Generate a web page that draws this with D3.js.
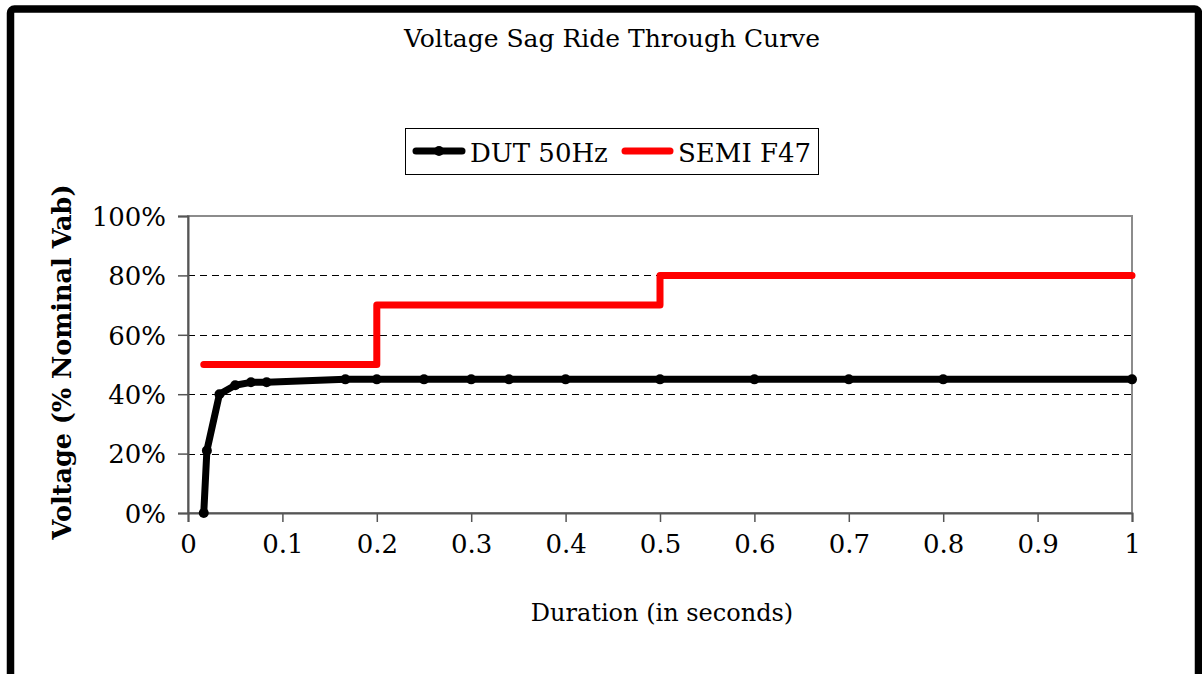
<!DOCTYPE html>
<html>
<head>
<meta charset="utf-8">
<script src="https://cdn.jsdelivr.net/npm/d3@7"></script>
<style>
  body { margin: 0; background: #fff; }
  svg { display: block; }
  svg text { font-family: "DejaVu Serif", "Liberation Serif", serif; }
</style>
</head>
<body>
<svg width="1202" height="674"></svg>
<script>
// duration in seconds, voltage in % of nominal
var dutTimes   = [0.0167, 0.02, 0.0333, 0.05, 0.0667, 0.0833, 0.1667, 0.2, 0.25, 0.3, 0.34, 0.4, 0.5, 0.6, 0.7, 0.8, 1.0];
var dutVolts   = [0, 21, 40, 43, 44, 44, 45, 45, 45, 45, 45, 45, 45, 45, 45, 45, 45];
var semiTimes  = [0.0167, 0.2, 0.2, 0.5, 0.5, 1.0];
var semiVolts  = [50, 50, 70, 70, 80, 80];
var xTicks = [0, 0.1, 0.2, 0.3, 0.4, 0.5, 0.6, 0.7, 0.8, 0.9, 1];
var yTicks = [0, 20, 40, 60, 80, 100];
var seriesNames = ["DUT 50Hz", "SEMI F47"];

var dut = dutTimes.map(function(t, i) { return {t: t, v: dutVolts[i]}; });
var semi = semiTimes.map(function(t, i) { return {t: t, v: semiVolts[i]}; });

var svg = d3.select("svg"),
    margin = {top: 216, right: 70, bottom: 161, left: 188},
    width = +svg.attr("width") - margin.left - margin.right,
    height = +svg.attr("height") - margin.top - margin.bottom;

// outer chart frame (bottom edge runs off the picture)
svg.append("rect")
    .attr("x", 10.5).attr("y", 9)
    .attr("width", 1188).attr("height", 720)
    .attr("rx", 4)
    .attr("fill", "#fff")
    .attr("stroke", "#000")
    .attr("stroke-width", 7.5);

svg.append("text")
    .attr("x", 612).attr("y", 47)
    .attr("text-anchor", "middle")
    .style("font-size", "25px")
    .text("Voltage Sag Ride Through Curve");

var g = svg.append("g").attr("transform", "translate(" + margin.left + "," + margin.top + ")");

var x = d3.scaleLinear().domain([0, 1]).range([0, width]);
var y = d3.scaleLinear().domain([0, 100]).range([height, 0]);

// dashed gridlines
g.selectAll(".grid")
    .data(yTicks.filter(function(d) { return d > 0 && d < 100; }))
  .enter().append("line")
    .attr("class", "grid")
    .attr("x1", 0).attr("x2", width)
    .attr("y1", function(d) { return Math.round(y(d)) + 0.5; })
    .attr("y2", function(d) { return Math.round(y(d)) + 0.5; })
    .attr("stroke", "#000")
    .attr("stroke-width", 1)
    .attr("stroke-dasharray", "7,5");

// plot border
g.append("rect")
    .attr("x", 0).attr("y", 0)
    .attr("width", width).attr("height", height)
    .attr("fill", "none")
    .attr("stroke", "#8c8c8c")
    .attr("stroke-width", 2);

var xAxis = g.append("g")
    .attr("transform", "translate(0," + height + ")")
    .call(d3.axisBottom(x).tickValues(xTicks).tickSize(9).tickPadding(13)
        .tickFormat(function(d) { return d === 0 || d === 1 ? d3.format("d")(d) : d3.format(".1f")(d); }));

var yAxis = g.append("g")
    .call(d3.axisLeft(y).tickValues(yTicks).tickSize(10).tickPadding(12)
        .tickFormat(function(d) { return d + "%"; }));

[xAxis, yAxis].forEach(function(ax) {
  ax.attr("font-family", null).attr("font-size", null);
  ax.select(".domain").attr("stroke", "#555").attr("stroke-width", 2);
  ax.selectAll(".tick line").attr("stroke", "#555").attr("stroke-width", 1.5);
  ax.selectAll(".tick text")
      .attr("fill", "#000")
      .style("font-size", "26px");
});
yAxis.selectAll(".tick text").attr("dy", "0.36em");
xAxis.selectAll(".tick text").attr("dy", "0.71em");

g.append("text")
    .attr("x", x(0.5) + 2).attr("y", 621 - margin.top)
    .attr("text-anchor", "middle")
    .style("font-size", "24px")
    .text("Duration (in seconds)");

g.append("text")
    .attr("transform", "translate(" + (71 - margin.left) + "," + (362 - margin.top) + ") rotate(-90)")
    .attr("text-anchor", "middle")
    .style("font-size", "25.5px")
    .style("font-weight", "bold")
    .text("Voltage (% Nominal Vab)");

var line = d3.line()
    .x(function(d) { return x(d.t); })
    .y(function(d) { return y(d.v); });

g.append("path")
    .datum(semi)
    .attr("d", line)
    .attr("fill", "none")
    .attr("stroke", "#ff0000")
    .attr("stroke-width", 7)
    .attr("stroke-linejoin", "round")
    .attr("stroke-linecap", "round");

g.append("path")
    .datum(dut)
    .attr("d", line)
    .attr("fill", "none")
    .attr("stroke", "#000")
    .attr("stroke-width", 7)
    .attr("stroke-linejoin", "round")
    .attr("stroke-linecap", "round");

g.selectAll(".dot")
    .data(dut)
  .enter().append("circle")
    .attr("class", "dot")
    .attr("cx", function(d) { return x(d.t); })
    .attr("cy", function(d) { return y(d.v); })
    .attr("r", 5)
    .attr("fill", "#000");

// legend
var legend = svg.append("g");
legend.append("rect")
    .attr("x", 405.5).attr("y", 128.5)
    .attr("width", 413).attr("height", 46)
    .attr("fill", "#fff")
    .attr("stroke", "#000")
    .attr("stroke-width", 1);

legend.append("line")
    .attr("x1", 416).attr("x2", 462).attr("y1", 151).attr("y2", 151)
    .attr("stroke", "#000").attr("stroke-width", 7).attr("stroke-linecap", "round");
legend.append("circle")
    .attr("cx", 439).attr("cy", 151).attr("r", 5).attr("fill", "#000");
legend.append("text")
    .attr("x", 470).attr("y", 162)
    .style("font-size", "26px")
    .text(seriesNames[0]);

legend.append("line")
    .attr("x1", 625).attr("x2", 670).attr("y1", 151).attr("y2", 151)
    .attr("stroke", "#ff0000").attr("stroke-width", 7).attr("stroke-linecap", "round");
legend.append("text")
    .attr("x", 678).attr("y", 162)
    .style("font-size", "26px")
    .text(seriesNames[1]);
</script>
</body>
</html>
